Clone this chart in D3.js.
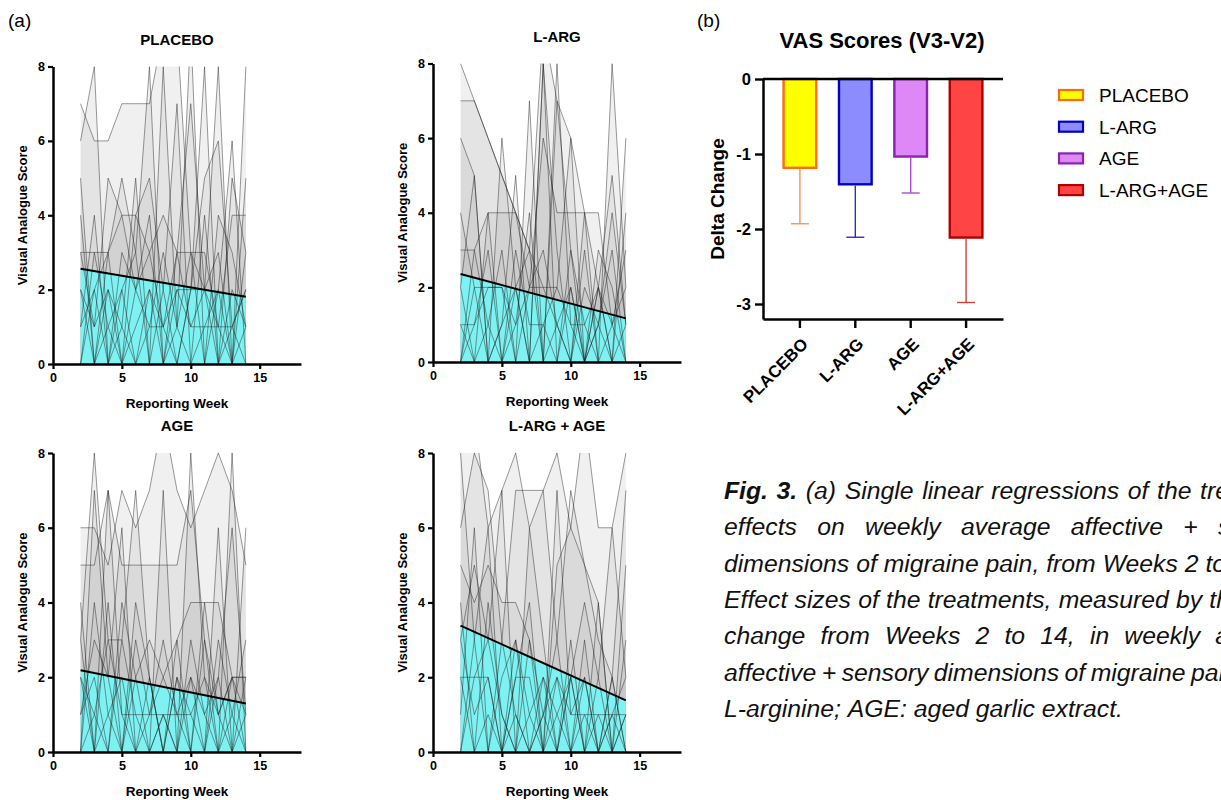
<!DOCTYPE html>
<html>
<head>
<meta charset="utf-8">
<script src="https://cdn.jsdelivr.net/npm/d3@7"></script>
<style>
  body { margin: 0; background: #fff; overflow: hidden; }
  svg { display: block; }
  text { font-family: "Liberation Sans", Arial, sans-serif; }
</style>
</head>
<body>
<svg id="fig" width="1221" height="800"></svg>
<script>
// ---- data: panel (a), weekly VAS per participant, weeks 2..14 ----
const weeks = [2, 3, 4, 5, 6, 7, 8, 9, 10, 11, 12, 13, 14];
const groupTitles = ['PLACEBO', 'L-ARG', 'AGE', 'L-ARG + AGE'];

const placeboScores = [
  [7, 6, 6, 7, 7, 7, 9, 9, 3, 2, 1, 0, 1],
  [6, 8, 0, 2, 3, 8, 0, 3, 7, 2, 8, 0, 5],
  [3, 3, 3, 4, 4, 3, 4, 3, 3, 3, 1, 4, 4],
  [5, 0, 3, 0, 4, 5, 2, 0, 2, 8, 0, 5, 3],
  [2, 1, 5, 4, 2, 1, 1, 3, 1, 1, 1, 1, 2],
  [0, 3, 1, 2, 0, 1, 3, 1, 9, 0, 2, 6, 0],
  [1, 2, 0, 3, 2, 4, 0, 2, 2, 2, 3, 0, 8],
  [4, 0, 2, 1, 5, 0, 2, 7, 0, 4, 0, 2, 1],
  [2, 0, 1, 0, 1, 2, 1, 0, 2, 5, 6, 1, 0],
  [0, 2, 3, 5, 3, 0, 8, 1, 0, 1, 2, 0, 3],
  [1, 4, 0, 1, 0, 2, 0, 1, 3, 0, 4, 3, 1],
  [3, 1, 2, 0, 2, 3, 1, 2, 1, 2, 0, 1, 2]
];
const lArgScores = [
  [8, 7, 6, 5, 4, 3, 2, 1, 2, 0, 1, 0, 1],
  [7, 7, 6, 5, 4, 3, 9, 7, 6, 4, 2, 1, 0],
  [3, 3, 4, 4, 4, 2, 6, 4, 4, 4, 4, 1, 3],
  [6, 5, 0, 6, 2, 0, 8, 0, 3, 0, 2, 5, 1],
  [1, 1, 2, 2, 0, 7, 0, 8, 1, 1, 2, 0, 4],
  [0, 2, 2, 2, 1, 2, 2, 2, 6, 0, 3, 2, 0],
  [2, 5, 0, 1, 5, 0, 8, 3, 0, 4, 0, 8, 2],
  [0, 3, 1, 0, 3, 1, 1, 0, 2, 0, 1, 3, 0],
  [1, 0, 4, 0, 2, 3, 0, 7, 3, 1, 0, 0, 6],
  [2, 0, 1, 3, 0, 2, 3, 1, 0, 2, 1, 4, 1],
  [4, 2, 0, 1, 2, 0, 1, 2, 1, 0, 2, 0, 0],
  [0, 1, 3, 0, 1, 4, 0, 1, 0, 3, 0, 1, 2]
];
const ageScores = [
  [6, 6, 5, 7, 6, 7, 9, 7, 6, 7, 8, 7, 5],
  [5, 5, 7, 5, 5, 5, 5, 5, 7, 3, 1, 2, 2],
  [3, 8, 3, 3, 7, 2, 0, 3, 4, 4, 4, 2, 1],
  [4, 0, 7, 1, 1, 1, 1, 1, 1, 0, 6, 0, 6],
  [0, 7, 2, 6, 0, 0, 7, 0, 8, 2, 0, 8, 0],
  [1, 2, 0, 4, 2, 3, 2, 3, 0, 4, 1, 2, 2],
  [2, 0, 4, 0, 3, 1, 3, 1, 2, 1, 2, 6, 1],
  [0, 4, 1, 2, 0, 2, 0, 2, 0, 0, 3, 1, 3],
  [2, 1, 0, 3, 1, 0, 1, 0, 3, 1, 0, 1, 0],
  [1, 3, 2, 0, 4, 2, 0, 2, 1, 2, 1, 0, 2],
  [0, 1, 3, 1, 0, 1, 2, 1, 0, 3, 0, 2, 0],
  [3, 0, 1, 0, 2, 0, 1, 0, 2, 0, 2, 0, 1]
];
const comboScores = [
  [9, 9, 6, 7, 8, 6, 7, 8, 6, 9, 6, 6, 8],
  [6, 8, 7, 3, 7, 7, 7, 3, 7, 5, 3, 2, 7],
  [5, 4, 5, 4, 4, 3, 0, 5, 6, 5, 4, 0, 5],
  [3, 5, 3, 7, 0, 6, 3, 0, 2, 4, 2, 6, 2],
  [2, 2, 2, 0, 3, 0, 1, 2, 1, 1, 1, 1, 1],
  [8, 3, 6, 0, 2, 4, 0, 7, 1, 2, 0, 2, 0],
  [0, 3, 0, 2, 3, 1, 2, 0, 3, 0, 4, 0, 3],
  [4, 0, 4, 1, 0, 3, 1, 3, 0, 2, 0, 1, 0],
  [1, 6, 0, 3, 1, 0, 2, 1, 2, 0, 1, 0, 1],
  [2, 0, 1, 0, 2, 2, 0, 1, 0, 3, 0, 2, 0],
  [3, 1, 2, 0, 1, 0, 1, 0, 2, 0, 2, 0, 1],
  [0, 2, 3, 1, 0, 1, 0, 2, 0, 1, 0, 1, 2]
];
// fitted regression values at week 2 and week 14
const regStart = [2.56, 2.36, 2.19, 3.38];
const regEnd = [1.81, 1.17, 1.30, 1.38];
const weekTicks = [0, 5, 10, 15];
const scoreTicks = [0, 2, 4, 6, 8];

// ---- data: panel (b) ----
const barGroups = ['PLACEBO', 'L-ARG', 'AGE', 'L-ARG+AGE'];
const deltaMean = [-1.20, -1.42, -1.05, -2.13];
const deltaErr = [0.73, 0.69, 0.47, 0.85];
const deltaTicks = [0, -1, -2, -3];

const captionLines = [
  'Fig. 3. (a) Single linear regressions of the treatment',
  'effects on weekly average affective + sensory',
  'dimensions of migraine pain, from Weeks 2 to 14. (b)',
  'Effect sizes of the treatments, measured by the delta',
  'change from Weeks 2 to 14, in weekly average',
  'affective + sensory dimensions of migraine pain. L-ARG:',
  'L-arginine; AGE: aged garlic extract.'
];

// ---- styles ----
const barFill = ['#ffff00', '#8c8cff', '#dd88f6', '#ff4444'];
const barStroke = ['#ff6a10', '#0000c8', '#8c22ae', '#b00000'];
const errStroke = ['#ff9250', '#2c2cd0', '#a64ccc', '#c84040'];

const svg = d3.select('#fig');

// ---- panel (a) ----
svg.append('text').attr('x', 8).attr('y', 27).attr('font-size', 19).text('(a)');

const panels = [
  { data: placeboScores, left: 53, top: 66.5, bottom: 364 },
  { data: lArgScores, left: 433, top: 63.5, bottom: 362 },
  { data: ageScores, left: 53, top: 453, bottom: 752 },
  { data: comboScores, left: 433, top: 453, bottom: 752 }
];

panels.forEach((p, i) => {
  const x = d3.scaleLinear().domain([0, 18]).range([p.left, p.left + 248]);
  const y = d3.scaleLinear().domain([0, 8]).range([p.bottom, p.top]);
  const g = svg.append('g');

  g.append('clipPath').attr('id', 'clip' + i)
    .append('rect')
    .attr('x', x(0)).attr('y', y(8))
    .attr('width', x(18) - x(0)).attr('height', y(0) - y(8));

  const plot = g.append('g').attr('clip-path', `url(#clip${i})`);

  const area = d3.area().x((d, j) => x(weeks[j])).y0(y(0)).y1(d => y(d));
  const line = d3.line().x((d, j) => x(weeks[j])).y(d => y(d));

  plot.selectAll('path.subj-area').data(p.data).join('path')
    .attr('class', 'subj-area')
    .attr('d', area)
    .attr('fill', 'rgba(178,178,178,0.2)');

  const reg = [
    { w: weeks[0], v: regStart[i] },
    { w: weeks[weeks.length - 1], v: regEnd[i] }
  ];
  plot.append('path').datum(reg)
    .attr('d', d3.area().x(d => x(d.w)).y0(y(0)).y1(d => y(d.v)))
    .attr('fill', '#7ef2f2');

  plot.selectAll('path.subj-line').data(p.data).join('path')
    .attr('class', 'subj-line')
    .attr('d', line)
    .attr('fill', 'none')
    .attr('stroke', 'rgba(30,30,30,0.5)')
    .attr('stroke-width', 0.9);

  plot.append('path').datum(reg)
    .attr('d', d3.line().x(d => x(d.w)).y(d => y(d.v)))
    .attr('fill', 'none')
    .attr('stroke', '#000')
    .attr('stroke-width', 2);

  // axes
  const yAxis = g.append('g')
    .attr('transform', `translate(${x(0)},0)`)
    .call(d3.axisLeft(y).tickValues(scoreTicks).tickSize(5).tickSizeOuter(0).tickPadding(3));
  const xAxis = g.append('g')
    .attr('transform', `translate(0,${y(0)})`)
    .call(d3.axisBottom(x).tickValues(weekTicks).tickSize(5).tickSizeOuter(0).tickPadding(4));

  [yAxis, xAxis].forEach(ax => {
    ax.attr('font-family', null).attr('font-size', null);
    ax.select('.domain').attr('stroke-width', 2.5);
    ax.selectAll('.tick line').attr('stroke-width', 2.2);
    ax.selectAll('.tick text')
      .attr('font-size', 12.5).attr('font-weight', 'bold').attr('fill', '#000');
  });

  const cx = (x(0) + x(18)) / 2;
  g.append('text')
    .attr('x', cx).attr('y', p.top - 22)
    .attr('text-anchor', 'middle')
    .attr('font-size', 15).attr('font-weight', 'bold')
    .text(groupTitles[i]);

  g.append('text')
    .attr('x', cx).attr('y', p.bottom + 44)
    .attr('text-anchor', 'middle')
    .attr('font-size', 13.5).attr('font-weight', 'bold')
    .text('Reporting Week');

  g.append('text')
    .attr('transform', `translate(${x(0) - 26},${(y(0) + y(8)) / 2}) rotate(-90)`)
    .attr('text-anchor', 'middle')
    .attr('font-size', 13).attr('font-weight', 'bold')
    .text('Visual Analogue Score');
});

// ---- panel (b) ----
svg.append('text').attr('x', 697).attr('y', 27).attr('font-size', 19).text('(b)');

svg.append('text')
  .attr('x', 882).attr('y', 48)
  .attr('text-anchor', 'middle')
  .attr('font-size', 22).attr('font-weight', 'bold')
  .text('VAS Scores (V3-V2)');

const bx = d3.scaleBand().domain(barGroups).range([763, 1003]).paddingInner(0.367).paddingOuter(0.35);
const by = d3.scaleLinear().domain([-3.2, 0]).range([319, 79]);

const gb = svg.append('g');

gb.selectAll('rect.bar').data(barGroups).join('rect')
  .attr('class', 'bar')
  .attr('x', d => bx(d) + 1.2)
  .attr('y', by(0))
  .attr('width', bx.bandwidth() - 2.4)
  .attr('height', (d, i) => by(deltaMean[i]) - by(0) - 1.2)
  .attr('fill', (d, i) => barFill[i])
  .attr('stroke', (d, i) => barStroke[i])
  .attr('stroke-width', 2.4);

const errG = gb.selectAll('g.err').data(barGroups).join('g').attr('class', 'err')
  .attr('stroke', (d, i) => errStroke[i]).attr('stroke-width', 1.4);
errG.append('line')
  .attr('x1', d => bx(d) + bx.bandwidth() / 2).attr('x2', d => bx(d) + bx.bandwidth() / 2)
  .attr('y1', (d, i) => by(deltaMean[i])).attr('y2', (d, i) => by(deltaMean[i] - deltaErr[i]));
errG.append('line')
  .attr('x1', d => bx(d) + bx.bandwidth() / 2 - 9).attr('x2', d => bx(d) + bx.bandwidth() / 2 + 9)
  .attr('y1', (d, i) => by(deltaMean[i] - deltaErr[i])).attr('y2', (d, i) => by(deltaMean[i] - deltaErr[i]));

// zero line
gb.append('line')
  .attr('x1', 763).attr('x2', 1003).attr('y1', by(0)).attr('y2', by(0))
  .attr('stroke', '#000').attr('stroke-width', 2.5);

const byAxis = gb.append('g').attr('transform', 'translate(763,0)')
  .call(d3.axisLeft(by).tickValues(deltaTicks).tickSize(8).tickSizeOuter(0).tickPadding(4));
const bxAxis = gb.append('g').attr('transform', `translate(0,${by(-3.2)})`)
  .call(d3.axisBottom(bx).tickSize(9).tickSizeOuter(0));

[byAxis, bxAxis].forEach(ax => {
  ax.attr('font-family', null).attr('font-size', null);
  ax.select('.domain').attr('stroke-width', 2.5);
  ax.selectAll('.tick line').attr('stroke-width', 2.4);
  ax.selectAll('.tick text').attr('font-size', 16.5).attr('font-weight', 'bold').attr('fill', '#000');
});
byAxis.selectAll('.tick text').text(d => d === 0 ? '0' : '-' + Math.abs(d));
bxAxis.selectAll('.tick text')
  .attr('x', 0).attr('y', 0).attr('dy', '0.35em')
  .attr('transform', 'translate(5,22) rotate(-45)')
  .attr('text-anchor', 'end')
  .attr('font-size', 17);

gb.append('text')
  .attr('transform', `translate(724,${(by(0) + by(-3.2)) / 2}) rotate(-90)`)
  .attr('text-anchor', 'middle')
  .attr('font-size', 19).attr('font-weight', 'bold')
  .text('Delta Change');

// legend
const legend = svg.append('g').attr('transform', 'translate(1059,90)');
const lgRow = legend.selectAll('g').data(barGroups).join('g')
  .attr('transform', (d, i) => `translate(0,${i * 31.7})`);
lgRow.append('rect')
  .attr('width', 24).attr('height', 10)
  .attr('fill', (d, i) => barFill[i])
  .attr('stroke', (d, i) => barStroke[i])
  .attr('stroke-width', 2.2);
lgRow.append('text')
  .attr('x', 40).attr('y', 12)
  .attr('font-size', 19)
  .text(d => d);

// ---- caption (justified column, cut by the right edge like the source) ----
const capFont = 'Lato, "Open Sans", sans-serif';
const capX = 724;
const meas = svg.append('text')
  .attr('font-family', capFont).attr('font-style', 'italic').attr('font-size', 100);
function wordWidth(s, size, bold) {
  meas.attr('font-size', size).attr('font-weight', bold ? 'bold' : 'normal').text(s);
  return meas.node().getComputedTextLength();
}
const capSize = 100 * 488 / wordWidth('dimensions of migraine pain, from Weeks 2 t', 100, false);
const colWidth = (1218 - capX) + wordWidth('sensory', capSize, false);
const spaceW = wordWidth('a a', capSize, false) - 2 * wordWidth('a', capSize, false);

const capG = svg.append('g')
  .attr('font-family', capFont).attr('font-style', 'italic').attr('font-size', capSize).attr('fill', '#111');

captionLines.forEach((ln, li) => {
  const words = ln.split(' ');
  const bold = words.map((w, wi) => li === 0 && wi < 2);
  const widths = words.map((w, wi) => wordWidth(w, capSize, bold[wi]));
  const total = d3.sum(widths);
  const justify = li < captionLines.length - 1;
  const gap = justify ? Math.max(spaceW * 0.8, (colWidth - total) / (words.length - 1)) : spaceW;
  let xPos = capX;
  words.forEach((w, wi) => {
    // words that start past the page edge are never visible, so skip them
    if (xPos < 1221) {
      capG.append('text')
        .attr('x', xPos).attr('y', 499 + li * 36.3)
        .attr('font-weight', bold[wi] ? 'bold' : 'normal')
        .text(w);
    }
    xPos += widths[wi] + gap;
  });
});
meas.remove();
</script>
</body>
</html>
